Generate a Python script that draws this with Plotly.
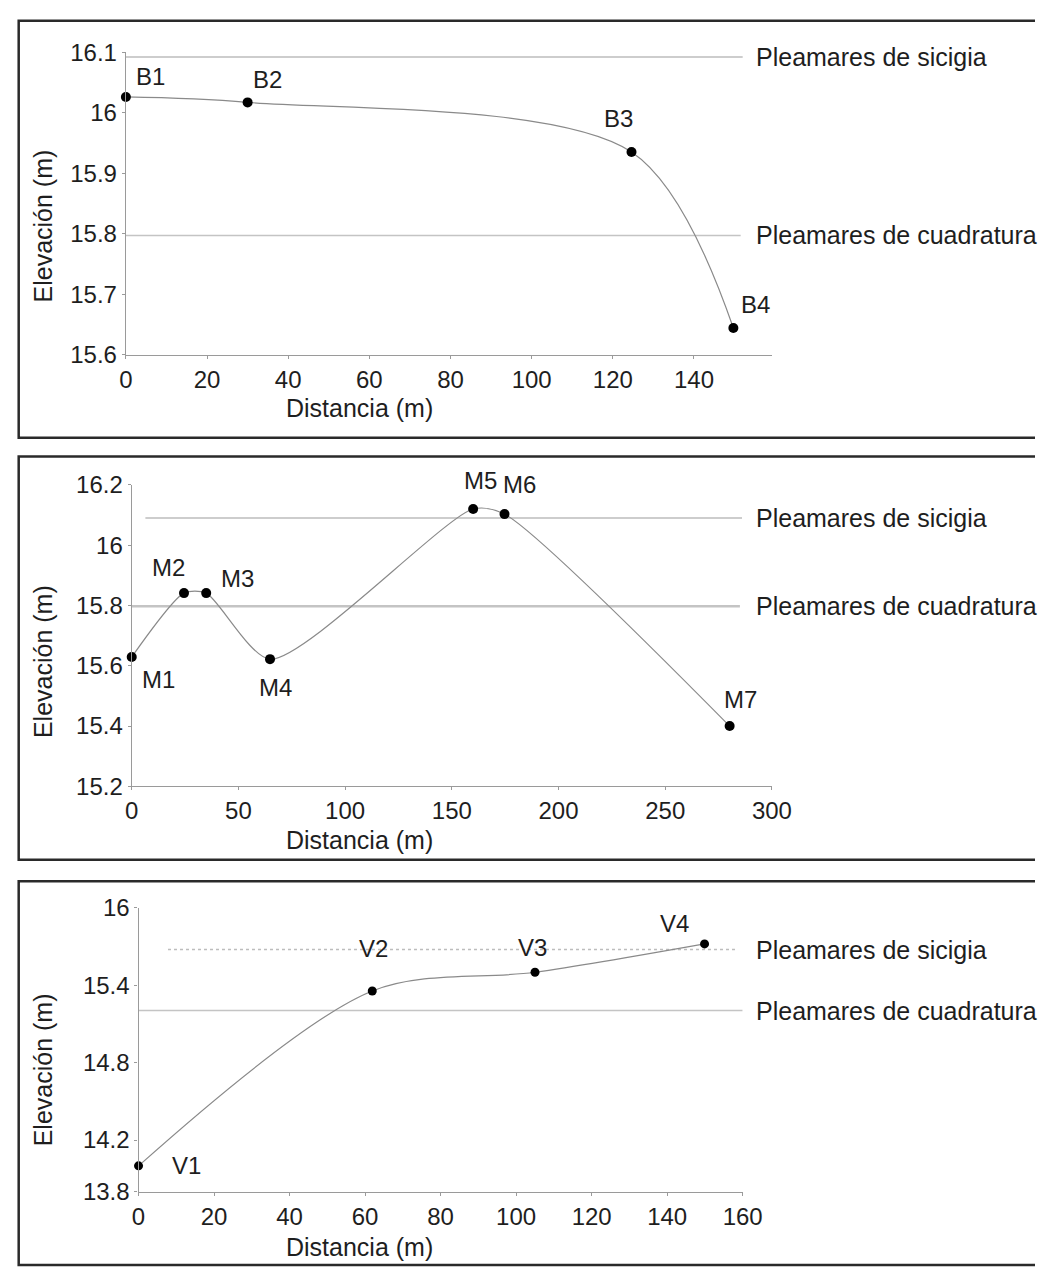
import plotly.graph_objects as go

W, H = 1055, 1281

# ---------------- data ----------------
b_names = ["B1", "B2", "B3", "B4"]
b_dist = [0, 30, 124.6, 149.7]
b_elev = [16.026, 16.017, 15.935, 15.644]

m_names = ["M1", "M2", "M3", "M4", "M5", "M6", "M7"]
m_dist = [0, 24.5, 34.9, 64.8, 160.0, 174.7, 280.2]
m_elev = [15.629, 15.841, 15.841, 15.622, 16.12, 16.103, 15.40]

v_names = ["V1", "V2", "V3", "V4"]
v_dist = [0, 61.9, 105, 149.9]
v_elev = [14.0, 15.355, 15.50, 15.72]

ref_names = ["Pleamares de sicigia", "Pleamares de cuadratura"]
b_ref = [16.092, 15.797]
m_ref = [16.09, 15.797]
v_ref = [15.676, 15.203]

# extents of the reference lines (data units) per panel: [start, end] for sicigia, cuadratura
b_ref_x = [[0, 152], [0, 151.5]]
m_ref_x = [[6.4, 286], [0, 285]]
v_ref_x = [[7.8, 158.5], [0, 160]]

b_xticks = [0, 20, 40, 60, 80, 100, 120, 140]
m_xticks = [0, 50, 100, 150, 200, 250, 300]
v_xticks = [0, 20, 40, 60, 80, 100, 120, 140, 160]
b_yticks = [15.6, 15.7, 15.8, 15.9, 16.0, 16.1]
m_yticks = [15.2, 15.4, 15.6, 15.8, 16.0, 16.2]
v_yticks = [13.8, 14.2, 14.8, 15.4, 16.0]

# label offsets in pixels (dx, dy up)
b_off = [(25, 20), (20, 23), (-13, 33), (22, 24)]
m_off = [(27, -22), (-16, 26), (31, 15), (5, -28), (7, 28), (15, 30), (11, 27)]
v_off = [(48, 0), (1, 42), (-3, 25), (-30, 20)]

FONT = "Liberation Sans, Arial, sans-serif"
TXT = "#1e1e1e"


def px(x):
    return x / W


def py(y):
    return 1 - y / H


panels = [
    dict(names=b_names, x=b_dist, y=b_elev, ref=b_ref, refx=b_ref_x, off=b_off,
         xt=b_xticks, yt=b_yticks, xr=[0, 159.2], yr=[15.6, 16.1], smooth=0.9, msize=10,
         box=(7, 433), plot=(122, 785, 39, 348), xtitle_y=402, ytitle_y=217),
    dict(names=m_names, x=m_dist, y=m_elev, ref=m_ref, refx=m_ref_x, off=m_off,
         xt=m_xticks, yt=m_yticks, xr=[0, 300], yr=[15.2, 16.2], smooth=0.7, msize=10,
         box=(452, 864), plot=(128, 785, 481, 789), xtitle_y=844, ytitle_y=662),
    dict(names=v_names, x=v_dist, y=v_elev, ref=v_ref, refx=v_ref_x, off=v_off,
         xt=v_xticks, yt=v_yticks, xr=[0, 160], yr=[13.8, 16.0], smooth=0.9, msize=9,
         box=(886, 1278), plot=(135, 755, 913, 1203), xtitle_y=1260, ytitle_y=1079),
]

fig = go.Figure()
annotations = []
shapes = []
layout_axes = {}

for i, p in enumerate(panels):
    n = "" if i == 0 else str(i + 1)
    xa, ya = "x" + n, "y" + n
    x0, x1, y0, y1 = p["plot"]

    # reference lines
    for k, (rv, rx) in enumerate(zip(p["ref"], p["refx"])):
        fig.add_trace(go.Scatter(
            x=rx, y=[rv, rv], mode="lines", xaxis=xa, yaxis=ya,
            line=dict(color="#c4c4c4" if k == 1 else "#bdbdbd",
                      width=2.5 if (k == 1 and i == 1) else 1.5,
                      dash="dot" if (k == 0 and i == 2) else "solid"),
            showlegend=False, hoverinfo="skip", cliponaxis=False))
        annotations.append(dict(
            text=ref_names[k], xref="paper", x=px(767), xanchor="left",
            yref=ya, y=rv, yanchor="middle", showarrow=False,
            font=dict(family=FONT, size=25, color=TXT)))

    # profile
    fig.add_trace(go.Scatter(
        x=p["x"], y=p["y"], mode="lines+markers", xaxis=xa, yaxis=ya,
        line=dict(color="#8a8a8a", width=1.2, shape="spline", smoothing=p["smooth"]),
        marker=dict(color="black", size=p["msize"]),
        showlegend=False, cliponaxis=False))

    for name, xv, yv, (dx, dy) in zip(p["names"], p["x"], p["y"], p["off"]):
        annotations.append(dict(
            text=name, x=xv, y=yv, xref=xa, yref=ya, xshift=dx, yshift=dy,
            showarrow=False, font=dict(family=FONT, size=24, color=TXT)))

    axis_common = dict(showgrid=False, zeroline=False, showline=True,
                       linecolor="#9a9a9a", linewidth=1.2, ticks="outside",
                       ticklen=3, tickcolor="#9a9a9a",
                       tickfont=dict(family=FONT, size=24, color=TXT))
    layout_axes["xaxis" + n] = dict(
        axis_common, domain=[px(x0), px(x1)], range=p["xr"],
        tickvals=p["xt"], ticktext=[str(t) for t in p["xt"]],
        anchor=ya)
    layout_axes["yaxis" + n] = dict(
        axis_common, domain=[py(y1), py(y0)], range=p["yr"],
        tickvals=p["yt"], ticktext=[("%g" % t) for t in p["yt"]],
        anchor=xa)

    # axis titles
    annotations.append(dict(
        text="Distancia (m)", xref="paper", yref="paper", x=px(362), y=py(p["xtitle_y"]),
        xanchor="center", yanchor="middle", showarrow=False,
        font=dict(family=FONT, size=25, color=TXT)))
    annotations.append(dict(
        text="Elevación (m)", xref="paper", yref="paper", x=px(37), y=py(p["ytitle_y"]),
        xanchor="center", yanchor="middle", showarrow=False, textangle=-90,
        font=dict(family=FONT, size=25, color=TXT)))

    # panel frame (open on the right: it runs past the page edge in the original)
    b0, b1 = p["box"]
    xl, xr_ = px(12), 1.0
    yt_, yb_ = py(b0), py(b1)
    shapes.append(dict(type="path", xref="paper", yref="paper",
                       path=f"M {xr_},{yt_} L {xl},{yt_} L {xl},{yb_} L {xr_},{yb_}",
                       line=dict(color="#2a2a2a", width=2.5)))

fig.update_layout(
    width=W, height=H, margin=dict(l=0, r=0, t=0, b=0),
    paper_bgcolor="white", plot_bgcolor="white",
    annotations=annotations, shapes=shapes, showlegend=False,
    **layout_axes)

fig.write_html("out.html", config={"displayModeBar": False},
               post_script="document.body.style.margin='0px';document.body.style.overflow='hidden';")
